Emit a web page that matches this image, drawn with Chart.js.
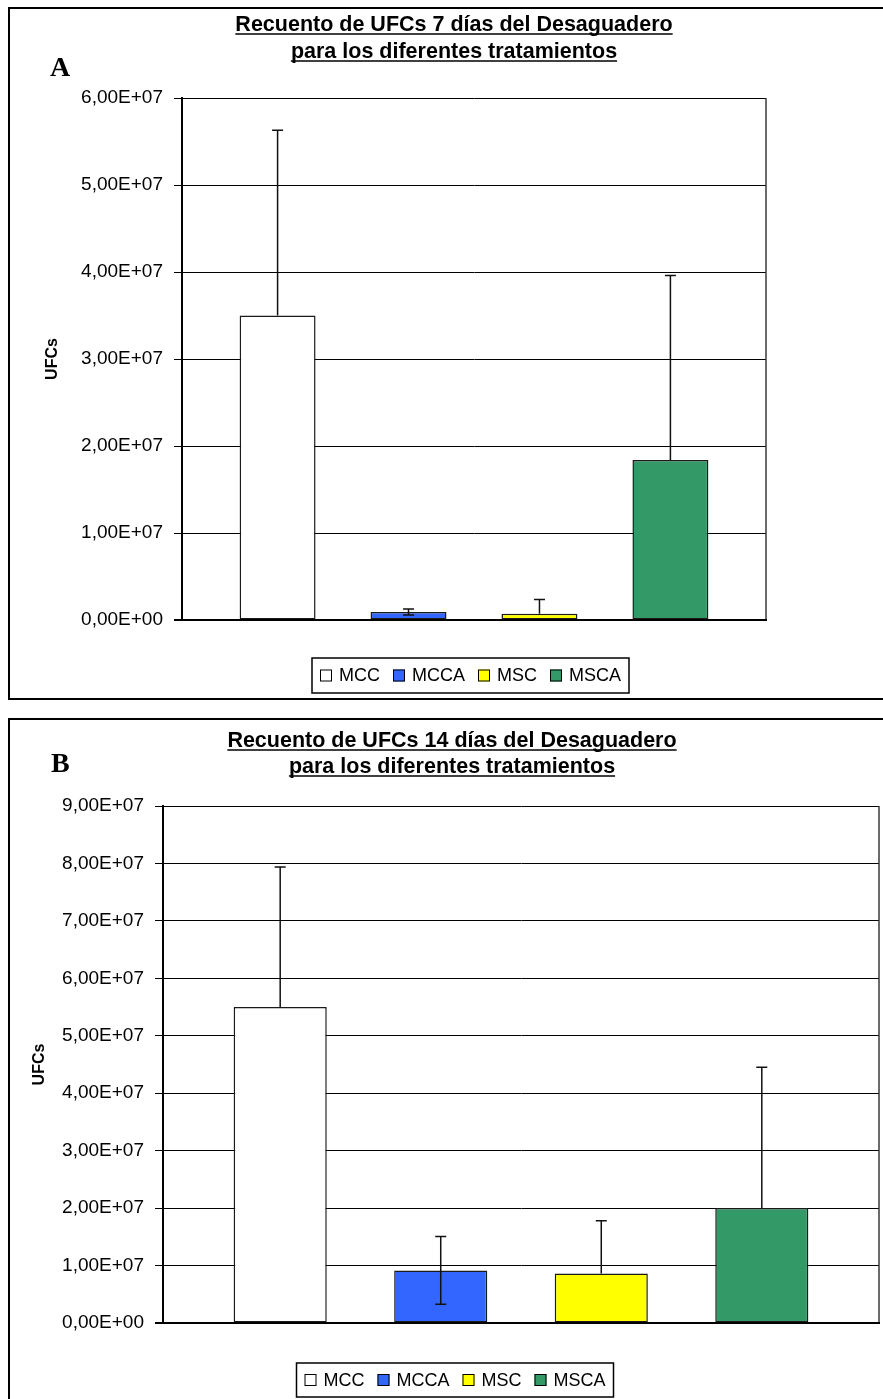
<!DOCTYPE html>
<html>
<head>
<meta charset="utf-8">
<title>Recuento de UFCs del Desaguadero</title>
<script src="https://cdn.jsdelivr.net/npm/chart.js@4.4.0/dist/chart.umd.min.js"></script>
<style>
  html, body { margin: 0; padding: 0; background: #fff; width: 883px; height: 1399px; overflow: hidden; position: relative; }
  .frame { position: absolute; border: 2px solid #000; box-sizing: border-box; }
  #frameA { left: 8px; top: 7px; width: 900px; height: 693px; }
  #frameB { left: 8px; top: 718px; width: 900px; height: 720px; }
  canvas { position: absolute; left: 0; }
  #chartA { top: 0; }
  #chartB { top: 705px; }
</style>
</head>
<body>
<div class="frame" id="frameA"></div>
<div class="frame" id="frameB"></div>
<canvas id="chartA" width="883" height="705"></canvas>
<canvas id="chartB" width="883" height="694"></canvas>
<script>
// Treatments and their bar colours
const categories = ['MCC', 'MCCA', 'MSC', 'MSCA'];
const barColors = ['#FFFFFF', '#3366FF', '#FFFF00', '#339966'];

// 7-day counts (UFCs) with error bar extents
const valuesA = [3.50e7, 0.92e6, 0.73e6, 1.84e7];
const errUpA = [2.13e7, 0.35e6, 1.64e6, 2.12e7];
const errDownA = [0, 0.35e6, 0, 0];
const yTicksA = [0, 1e7, 2e7, 3e7, 4e7, 5e7, 6e7];
const titleA = ['Recuento de UFCs 7 días del Desaguadero', 'para los diferentes tratamientos'];

// 14-day counts (UFCs) with error bar extents
const valuesB = [5.50e7, 0.915e7, 0.86e7, 2.00e7];
const errUpB = [2.44e7, 0.59e7, 0.92e7, 2.45e7];
const errDownB = [0, 0.59e7, 0, 0];
const yTicksB = [0, 1e7, 2e7, 3e7, 4e7, 5e7, 6e7, 7e7, 8e7, 9e7];
const titleB = ['Recuento de UFCs 14 días del Desaguadero', 'para los diferentes tratamientos'];

const yAxisTitle = 'UFCs';
const SANS = '"Liberation Sans", Arial, sans-serif';
const SERIF = '"Liberation Serif", "Times New Roman", serif';

// 6,00E+07 style labels
function sci(v) {
  const parts = Number(v).toExponential(2).split('e');
  const n = parseInt(parts[1], 10);
  return parts[0].replace('.', ',') + 'E' + (n < 0 ? '-' : '+') + String(Math.abs(n)).padStart(2, '0');
}

function makeChart(id, spec) {
  const canvas = document.getElementById(id);
  const W = canvas.width, H = canvas.height;
  const area = spec.area;

  const decorations = {
    id: 'decorations',
    afterDatasetsDraw(chart) {
      const ctx = chart.ctx;
      const ca = chart.chartArea;
      const ys = chart.scales.y;
      const meta = chart.getDatasetMeta(0);
      ctx.save();
      // plot-area right edge
      ctx.strokeStyle = '#3a3a3a';
      ctx.lineWidth = 1.5;
      ctx.beginPath();
      ctx.moveTo(ca.right, ca.top);
      ctx.lineTo(ca.right, ca.bottom);
      ctx.stroke();
      // category axis line
      ctx.strokeStyle = '#000';
      ctx.lineWidth = 2;
      ctx.beginPath();
      ctx.moveTo(ca.left - 8, ca.bottom);
      ctx.lineTo(ca.right + 1, ca.bottom);
      ctx.stroke();
      // error bars
      ctx.strokeStyle = '#111';
      ctx.lineWidth = 1.5;
      const cap = 5.5;
      spec.values.forEach((v, i) => {
        const x = meta.data[i].x;
        const yHi = ys.getPixelForValue(v + spec.errUp[i]);
        const yLo = ys.getPixelForValue(v - spec.errDown[i]);
        ctx.beginPath();
        ctx.moveTo(x, yLo);
        ctx.lineTo(x, yHi);
        ctx.moveTo(x - cap, yHi);
        ctx.lineTo(x + cap, yHi);
        if (spec.errDown[i] > 0) {
          ctx.moveTo(x - cap, yLo);
          ctx.lineTo(x + cap, yLo);
        }
        ctx.stroke();
      });
      ctx.restore();
    },
    afterDraw(chart) {
      const ctx = chart.ctx;
      const ca = chart.chartArea;
      ctx.save();
      ctx.fillStyle = '#000';
      ctx.strokeStyle = '#000';

      // underlined title
      ctx.font = 'bold ' + spec.titleSize + 'px ' + SANS;
      ctx.textAlign = 'left';
      ctx.textBaseline = 'alphabetic';
      spec.title.forEach((line, k) => {
        const w = ctx.measureText(line).width;
        const x0 = spec.titleCx - w / 2;
        const yb = spec.titleBase[k];
        ctx.fillText(line, x0, yb);
        ctx.lineWidth = 1.5;
        ctx.beginPath();
        ctx.moveTo(x0, yb + 3);
        ctx.lineTo(x0 + w, yb + 3);
        ctx.stroke();
      });

      // panel letter
      ctx.font = 'bold 28px ' + SERIF;
      ctx.fillText(spec.letter, spec.letterX, spec.letterBase);

      // value axis title
      ctx.save();
      ctx.translate(spec.yTitleX, (ca.top + ca.bottom) / 2);
      ctx.rotate(-Math.PI / 2);
      ctx.font = 'bold 16px ' + SANS;
      ctx.textAlign = 'center';
      ctx.textBaseline = 'middle';
      ctx.fillText(yAxisTitle, 0, 0);
      ctx.restore();

      // legend
      const lg = spec.legend;
      ctx.font = lg.size + 'px ' + SANS;
      const sw = 12, gapText = 7, gapItem = 13, pad = 8;
      const widths = categories.map(c => ctx.measureText(c).width);
      let total = pad * 2;
      widths.forEach((w, i) => { total += sw + gapText + w + (i < widths.length - 1 ? gapItem : 0); });
      const bx = lg.cx - total / 2;
      ctx.lineWidth = 1.5;
      ctx.strokeRect(bx, lg.top, total, lg.h);
      let x = bx + pad;
      const cy = lg.top + lg.h / 2;
      ctx.textAlign = 'left';
      ctx.textBaseline = 'middle';
      categories.forEach((c, i) => {
        ctx.fillStyle = barColors[i];
        ctx.fillRect(x, cy - sw / 2, sw, sw);
        ctx.strokeStyle = '#000';
        ctx.lineWidth = 1;
        ctx.strokeRect(x + 0.5, cy - sw / 2 + 0.5, sw - 1, sw - 1);
        ctx.fillStyle = '#000';
        ctx.fillText(c, x + sw + gapText, cy + 1);
        x += sw + gapText + widths[i] + gapItem;
      });
      ctx.restore();
    }
  };

  return new Chart(canvas, {
    type: 'bar',
    data: {
      datasets: [{
        data: spec.values.map((v, i) => ({ x: i, y: v })),
        backgroundColor: barColors,
        borderColor: '#1a1a1a',
        borderWidth: 1.5,
        borderSkipped: false,
        barPercentage: 0.58,
        categoryPercentage: 1
      }]
    },
    options: {
      responsive: false,
      animation: false,
      devicePixelRatio: 1,
      layout: { padding: { left: 0, top: area.top, right: W - area.right, bottom: H - area.bottom } },
      plugins: { legend: { display: false }, title: { display: false }, tooltip: { enabled: false } },
      scales: {
        x: {
          type: 'linear',
          display: false,
          offset: false,
          min: -0.73,
          max: 3.73,
          afterBuildTicks: s => { s.ticks = categories.map((c, i) => ({ value: i })); }
        },
        y: {
          min: 0,
          max: spec.ticks[spec.ticks.length - 1],
          afterBuildTicks: s => { s.ticks = spec.ticks.map(v => ({ value: v })); },
          afterFit: s => { s.width = area.left; },
          grid: { color: '#000', lineWidth: 1, tickLength: 8, drawTicks: true },
          border: { display: true, color: '#000', width: 2 },
          ticks: {
            color: '#000',
            padding: 11,
            font: { family: SANS, size: 19 },
            callback: v => sci(v)
          }
        }
      }
    },
    plugins: [decorations]
  });
}

makeChart('chartA', {
  values: valuesA, errUp: errUpA, errDown: errDownA, ticks: yTicksA, title: titleA,
  area: { left: 182, top: 98, right: 766, bottom: 620 },
  titleSize: 21.5, titleCx: 454, titleBase: [31, 58],
  letter: 'A', letterX: 50, letterBase: 76,
  yTitleX: 53,
  legend: { cx: 470.5, top: 658, h: 35, size: 18 }
});

makeChart('chartB', {
  values: valuesB, errUp: errUpB, errDown: errDownB, ticks: yTicksB, title: titleB,
  area: { left: 163, top: 101, right: 879, bottom: 618 },
  titleSize: 21.5, titleCx: 452, titleBase: [42, 68],
  letter: 'B', letterX: 51, letterBase: 67,
  yTitleX: 40,
  legend: { cx: 455, top: 658, h: 34, size: 18 }
});
</script>
</body>
</html>
